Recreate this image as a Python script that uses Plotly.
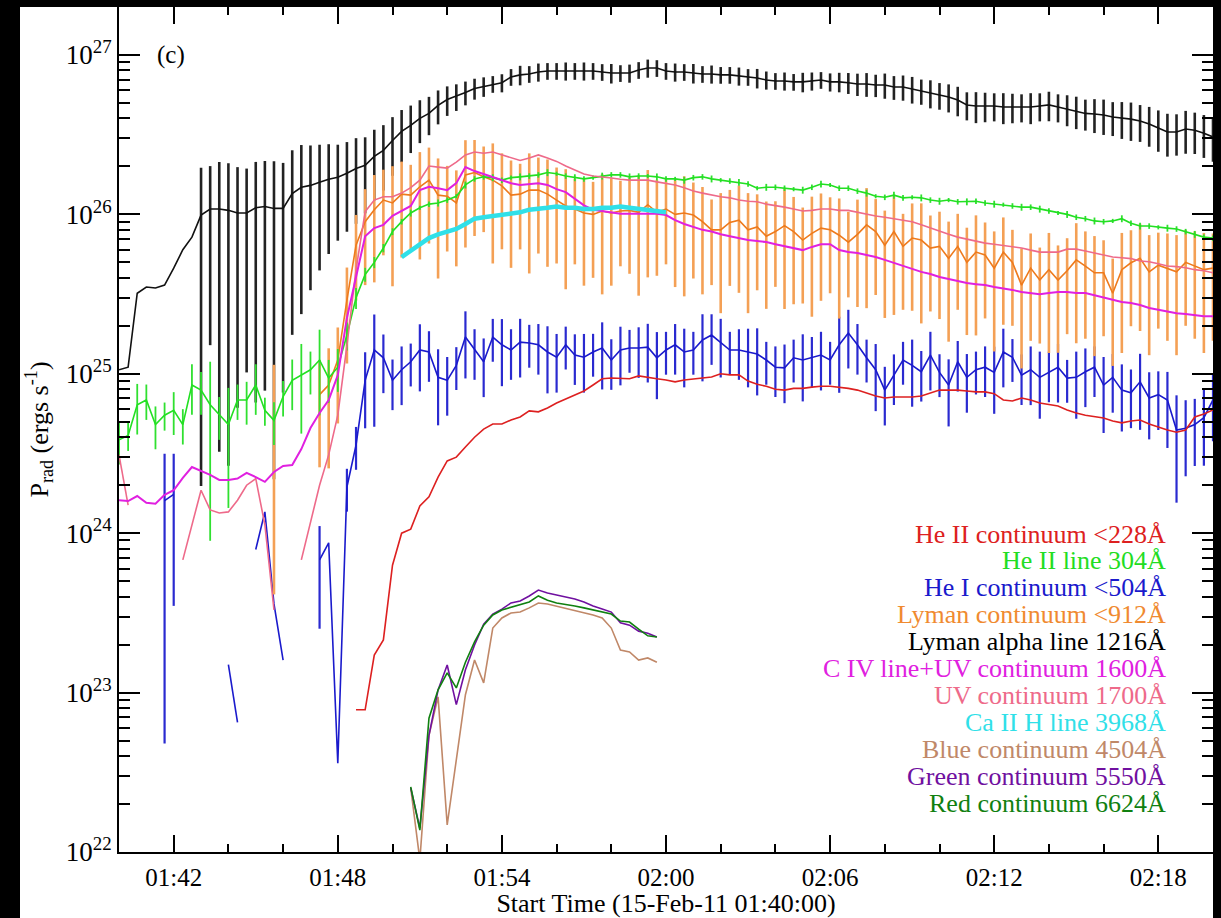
import pandas as pd
import plotly.graph_objects as go

# ---------------- time base (20 s cadence from 01:40:00) ----------------
START = "2011-02-15 01:40:00"
TIME = pd.date_range(START, periods=121, freq="20s")

# ---------------- series values (ergs s^-1) ----------------
# Lyman alpha line 1216 (black), i = 0..120
LYA = [1.06e25, 1.1e25, 3.2e25, 3.5e25, 3.45e25, 3.6e25, 4.6e25, 6.0e25, 7.2e25, 9.9e25,
       1.08e26, 1.08e26, 1.06e26, 1.02e26, 1.02e26, 1.1e26, 1.12e26, 1.09e26, 1.09e26, 1.35e26,
       1.48e26, 1.52e26, 1.59e26, 1.66e26, 1.71e26, 1.81e26, 1.94e26, 2.03e26, 2.31e26, 2.52e26,
       2.91e26, 3.32e26, 3.62e26, 4.0e26, 4.3e26, 4.83e26, 5.25e26, 5.5e26, 5.82e26, 6.17e26,
       6.35e26, 6.58e26, 6.7e26, 7.28e26, 7.5e26, 7.6e26, 7.82e26, 7.94e26, 7.94e26, 7.94e26,
       7.94e26, 7.94e26, 7.94e26, 7.82e26, 7.7e26, 7.7e26, 7.7e26, 8.05e26, 8.28e26, 8.28e26,
       7.94e26, 7.82e26, 7.82e26, 7.7e26, 7.6e26, 7.6e26, 7.5e26, 7.5e26, 7.38e26, 7.28e26,
       7.17e26, 6.97e26, 6.87e26, 6.87e26, 6.78e26, 6.78e26, 6.87e26, 6.97e26, 6.78e26, 6.78e26,
       6.7e26, 6.58e26, 6.58e26, 6.48e26, 6.48e26, 6.3e26, 6.3e26, 6.12e26, 5.94e26, 5.78e26,
       5.6e26, 5.45e26, 5.22e26, 4.86e26, 4.79e26, 4.79e26, 4.79e26, 4.72e26, 4.72e26, 4.72e26,
       4.72e26, 4.79e26, 4.86e26, 4.72e26, 4.58e26, 4.45e26, 4.3e26, 4.26e26, 4.2e26, 4.08e26,
       4.02e26, 3.96e26, 3.85e26, 3.69e26, 3.48e26, 3.29e26, 3.29e26, 3.43e26, 3.37e26, 3.23e26, 3.06e26]
LYA_ERRFRAC = [0, 0, 0, 0, 0, 0, 0, 0, 0,
               0.98, 0.86, 0.97, 0.975, 0.94, 0.9, 0.94, 0.93, 0.98, 0.93,
               0.87, 0.84, 0.78, 0.72, 0.66, 0.6, 0.57, 0.55, 0.5, 0.47, 0.44, 0.4, 0.36, 0.33,
               0.3, 0.27, 0.24, 0.21, 0.19, 0.17, 0.15, 0.14,
               0.12, 0.13, 0.12, 0.14, 0.12, 0.13, 0.12, 0.12, 0.13, 0.12,
               0.13, 0.12, 0.12, 0.14, 0.12, 0.13, 0.12, 0.13, 0.12, 0.12,
               0.13, 0.12, 0.14, 0.12, 0.13, 0.12, 0.12, 0.13, 0.12, 0.14,
               0.13, 0.12, 0.13, 0.12, 0.14, 0.13, 0.12, 0.13, 0.14, 0.15,
               0.16, 0.17, 0.16, 0.18, 0.17, 0.18, 0.19, 0.18, 0.2, 0.19,
               0.2, 0.21, 0.2, 0.22, 0.21, 0.2, 0.22, 0.21, 0.2, 0.22,
               0.2, 0.21, 0.2, 0.22, 0.23, 0.22, 0.24, 0.25, 0.24, 0.26,
               0.27, 0.26, 0.28, 0.29, 0.3, 0.29, 0.3, 0.29, 0.3, 0.3]

# He II line 304 (green), i = 0..120
HE2_304 = [3.85e24, 4.1e24, 6.4e24, 6.85e24, 4.8e24, 5.5e24, 5.9e24, 4.8e24, 8.5e24, 7.9e24,
           6.4e24, 5.5e24, 4.8e24, 6.85e24, 6.85e24, 8.5e24, 5.9e24, 5.1e24, 7.2e24, 9.1e24,
           9.8e24, 1.06e25, 1.22e25, 9.4e24, 1.1e25, 1.75e25, 3.0e25, 4.2e25, 5.0e25, 6.15e25,
           7.8e25, 9.0e25, 1.02e26, 1.1e26, 1.16e26, 1.18e26, 1.23e26, 1.3e26, 1.53e26, 1.67e26,
           1.72e26, 1.7e26, 1.64e26, 1.7e26, 1.72e26, 1.74e26, 1.77e26, 1.83e26, 1.8e26, 1.74e26,
           1.7e26, 1.67e26, 1.7e26, 1.74e26, 1.77e26, 1.77e26, 1.72e26, 1.74e26, 1.74e26, 1.72e26,
           1.67e26, 1.67e26, 1.64e26, 1.7e26, 1.72e26, 1.67e26, 1.64e26, 1.62e26, 1.59e26, 1.55e26,
           1.46e26, 1.48e26, 1.48e26, 1.46e26, 1.44e26, 1.42e26, 1.48e26, 1.55e26, 1.53e26, 1.46e26,
           1.46e26, 1.4e26, 1.36e26, 1.3e26, 1.28e26, 1.32e26, 1.27e26, 1.28e26, 1.27e26, 1.23e26,
           1.21e26, 1.23e26, 1.2e26, 1.2e26, 1.21e26, 1.18e26, 1.16e26, 1.15e26, 1.13e26, 1.11e26,
           1.11e26, 1.08e26, 1.05e26, 1.02e26, 1.0e26, 9.6e25, 9.4e25, 9.1e25, 9.0e25, 9.1e25,
           9.4e25, 8.8e25, 8.45e25, 8.45e25, 8.3e25, 8.2e25, 8.1e25, 7.8e25, 7.5e25, 7.2e25, 7.1e25]
HE2_304_ERRFRAC = [0.3, 0.2, 0.35, 0.25, 0.3, 0.2, 0.3, 0.25, 0.35, 0.3,
                   0.86, 0.3, 0.7, 0.25, 0.3, 0.35, 0.2, 0.3, 0.25, 0.35,
                   0.57, 0.3, 0.55, 0.3, 0.3, 0.2, 0.15, 0.1, 0.08, 0.06, 0.05,
                   0.04, 0.05, 0.03, 0.04, 0.05, 0.04, 0.03, 0.05, 0.04, 0.04,
                   0.05, 0.04, 0.03, 0.05, 0.04, 0.04, 0.05, 0.03, 0.04, 0.05,
                   0.04, 0.03, 0.05, 0.04, 0.04, 0.05, 0.04, 0.03, 0.05, 0.04,
                   0.03, 0.05, 0.04, 0.04, 0.05, 0.03, 0.04, 0.05, 0.04, 0.03,
                   0.05, 0.04, 0.04, 0.03, 0.05, 0.04, 0.05, 0.03, 0.04, 0.04,
                   0.04, 0.05, 0.03, 0.04, 0.05, 0.04, 0.03, 0.05, 0.04, 0.05,
                   0.03, 0.04, 0.05, 0.04, 0.04, 0.05, 0.03, 0.04, 0.05, 0.04,
                   0.05, 0.04, 0.03, 0.05, 0.04, 0.04, 0.05, 0.04, 0.03, 0.05,
                   0.04, 0.05, 0.04, 0.03, 0.05, 0.04, 0.04, 0.05, 0.04, 0.04]

# He I continuum <504 (blue), i = 0..120 (None = no valid value)
HE1 = [None, None, None, None, None, 1.6e24, 1.75e24, None, None, None,
       None, None, 1.5e23, 6.5e22, None, 7.9e23, 1.36e24, 3.6e23, 1.6e23, None,
       None, None, 6.8e23, 8.7e23, 3.6e22, 1.95e24, 3.57e24, 9.1e24, 1.41e25, 1.26e25,
       9.1e24, 1.06e25, 1.19e25, 1.41e25, 1.37e25, 9.5e24, 9.1e24, 1.13e25, 1.7e25, 1.41e25,
       1.19e25, 1.7e25, 1.52e25, 1.41e25, 1.58e25, 1.56e25, 1.52e25, 1.37e25, 1.27e25, 1.52e25,
       1.31e25, 1.27e25, 1.37e25, 1.45e25, 1.22e25, 1.41e25, 1.45e25, 1.45e25, 1.47e25, 1.26e25,
       1.41e25, 1.52e25, 1.37e25, 1.41e25, 1.63e25, 1.75e25, 1.58e25, 1.41e25, 1.41e25, 1.37e25,
       1.33e25, 1.22e25, 1.1e25, 1.09e25, 1.26e25, 1.22e25, 1.26e25, 1.31e25, 1.22e25, 1.52e25,
       1.8e25, 1.52e25, 1.26e25, 1.06e25, 7.9e24, 9.8e24, 1.22e25, 1.13e25, 1.03e25, 1.31e25,
       1.02e25, 8.5e24, 1.19e25, 9.5e24, 1.06e25, 1.1e25, 1.02e25, 1.37e25, 1.27e25, 9.8e24,
       1.06e25, 9.5e24, 1.02e25, 1.1e25, 9.4e24, 9.5e24, 1.03e25, 1.1e25, 8.5e24, 9.5e24,
       7.9e24, 7.6e24, 8.9e24, 7.05e24, 7.4e24, 6.85e24, 4.44e24, 4.55e24, 4.8e24, 5.3e24, 6.85e24]
HE1_ERRFRAC = [0, 0, 0, 0, 0, 0.97, 0.8, 0, 0, 0,
               0, 0, 0, 0, 0, 0, 0, 0, 0, 0,
               0, 0, 0.63, 0, 0, 0.3, 0.3, 0.5, 0.67, 0.4,
               0.35, 0.4, 0.3, 0.45, 0.35, 0.5, 0.4, 0.3, 0.45, 0.35,
               0.4, 0.3, 0.45, 0.35, 0.4, 0.3, 0.35, 0.45, 0.4, 0.3,
               0.35, 0.4, 0.3, 0.45, 0.35, 0.4, 0.3, 0.35, 0.4, 0.45,
               0.3, 0.35, 0.4, 0.3, 0.45, 0.35, 0.4, 0.3, 0.35, 0.4,
               0.45, 0.3, 0.35, 0.4, 0.3, 0.45, 0.35, 0.4, 0.3, 0.5,
               0.4, 0.35, 0.3, 0.45, 0.4, 0.35, 0.3, 0.45, 0.35, 0.4,
               0.3, 0.45, 0.35, 0.4, 0.3, 0.35, 0.45, 0.4, 0.3, 0.35,
               0.4, 0.45, 0.35, 0.4, 0.3, 0.45, 0.4, 0.35, 0.5, 0.4,
               0.45, 0.4, 0.5, 0.45, 0.4, 0.5, 0.65, 0.5, 0.45, 0.5, 0.45]

# Lyman continuum <912 (orange), i = 17..120
LYC_START = 17
LYC = [5.9e24, None, None, None, None,
       7.4e24, 8.5e24, 1.22e25, 2.9e25, 6.4e25, 9.0e25, 1.07e26, 1.23e26,
       1.18e26, 1.34e26, 1.32e26, 1.49e26, 1.64e26, 1.32e26, 1.3e26, 1.18e26, 1.77e26, 1.83e26,
       1.72e26, 1.64e26, 1.51e26, 1.32e26, 1.34e26, 1.42e26, 1.42e26, 1.34e26, 1.23e26, 1.13e26,
       1.08e26, 1.02e26, 1.0e26, 1.05e26, 1.02e26, 1.05e26, 1.06e26, 1.03e26, 1.15e26, 1.03e26,
       1.08e26, 1.0e26, 1.02e26, 9.9e25, 9.0e25, 8.0e25, 8.0e25, 8.9e25, 9.2e25, 8.0e25,
       8.35e25, 7.3e25, 7.8e25, 8.5e25, 7.8e25, 6.9e25, 7.6e25, 8.2e25, 8.0e25, 7.4e25,
       6.7e25, 7.5e25, 8.6e25, 7.8e25, 6.4e25, 7.8e25, 6.3e25, 7.1e25, 6.9e25, 6.15e25,
       6.3e25, 5.3e25, 6.3e25, 5.0e25, 5.8e25, 5.56e25, 4.6e25, 5.8e25, 5.0e25, 3.6e25,
       4.6e25, 3.87e25, 4.5e25, 3.87e25, 4.43e25, 5.18e25, 4.74e25, 4.3e25, 4.3e25, 3.2e25,
       4.5e25, 4.97e25, 5.3e25, 4.36e25, 4.8e25, 4.6e25, 4.36e25, 5.0e25, 4.74e25, 4.5e25, 4.6e25]
LYC_ERRFRAC = [0.93, 0, 0, 0, 0,
               0.65, 0.7, 0.6, 0.6, 0.55, 0.6, 0.65, 0.55, 0.7, 0.6,
               0.55, 0.65, 0.6, 0.7, 0.55, 0.6, 0.65, 0.6, 0.55, 0.7,
               0.6, 0.65, 0.55, 0.7, 0.6, 0.65, 0.6, 0.7, 0.55, 0.65,
               0.6, 0.7, 0.65, 0.55, 0.6, 0.7, 0.65, 0.6, 0.55, 0.65,
               0.7, 0.6, 0.65, 0.55, 0.7, 0.6, 0.65, 0.7, 0.6, 0.65,
               0.55, 0.7, 0.65, 0.6, 0.7, 0.65, 0.6, 0.7, 0.55, 0.65,
               0.7, 0.6, 0.65, 0.7, 0.6, 0.65, 0.7, 0.6, 0.65, 0.7,
               0.6, 0.65, 0.7, 0.6, 0.7, 0.65, 0.6, 0.7, 0.65, 0.6,
               0.7, 0.65, 0.6, 0.7, 0.65, 0.7, 0.6, 0.65, 0.7, 0.6,
               0.65, 0.7, 0.6, 0.65, 0.7, 0.6, 0.65, 0.7, 0.65]

# C IV line + UV continuum 1600 (magenta), i = 0..120
C4_1600 = [1.61e24, 1.59e24, 1.71e24, 1.55e24, 1.53e24, 1.74e24, 1.86e24, 2.22e24, 2.6e24, 2.45e24,
           2.32e24, 2.16e24, 2.16e24, 2.2e24, 2.39e24, 2.25e24, 2.1e24, 2.42e24, 2.64e24, 2.68e24,
           3.37e24, 4.57e24, 5.68e24, 6.85e24, 9.8e24, 2.24e25, 4.0e25, 7.3e25, 8.2e25, 8.6e25,
           9.8e25, 1.05e26, 1.13e26, 1.42e26, 1.49e26, 1.46e26, 1.42e26, 1.57e26, 1.98e26, 1.87e26,
           1.79e26, 1.72e26, 1.64e26, 1.57e26, 1.53e26, 1.55e26, 1.57e26, 1.53e26, 1.44e26, 1.38e26,
           1.25e26, 1.14e26, 1.07e26, 1.05e26, 1.03e26, 1.01e26, 1.01e26, 1.01e26, 1.01e26, 1.01e26,
           9.9e25, 9.2e25, 8.7e25, 8.3e25, 8.0e25, 7.8e25, 7.5e25, 7.3e25, 7.1e25, 6.9e25,
           6.8e25, 6.7e25, 6.5e25, 6.3e25, 6.15e25, 5.97e25, 6.25e25, 6.5e25, 6.5e25, 5.97e25,
           5.8e25, 5.72e25, 5.56e25, 5.4e25, 5.18e25, 4.97e25, 4.74e25, 4.54e25, 4.36e25, 4.23e25,
           4.05e25, 3.93e25, 3.82e25, 3.71e25, 3.65e25, 3.6e25, 3.5e25, 3.44e25, 3.36e25, 3.26e25,
           3.21e25, 3.16e25, 3.21e25, 3.26e25, 3.26e25, 3.21e25, 3.21e25, 3.1e25, 2.99e25, 2.9e25,
           2.82e25, 2.78e25, 2.7e25, 2.59e25, 2.52e25, 2.44e25, 2.4e25, 2.37e25, 2.34e25, 2.3e25, 2.3e25]

# UV continuum 1700 (pink), i = 0..120
UV_1700 = [3.1e24, 1.5e24, None, None, None, None, None, 6.8e23, 1.13e24, 1.86e24,
           1.4e24, 1.34e24, 1.36e24, 1.61e24, 2.0e24, 2.2e24, 1.13e24, 3.3e23, None, None,
           6.8e23, 1.17e24, 2.0e24, 3.1e24, 5.5e24, 1.5e25, 4.5e25, 1.04e26, 1.23e26, 1.29e26,
           1.29e26, 1.36e26, 1.47e26, 1.64e26, 2.01e26, 1.98e26, 1.95e26, 2.13e26, 2.36e26, 2.46e26,
           2.42e26, 2.46e26, 2.36e26, 2.26e26, 2.18e26, 2.26e26, 2.36e26, 2.26e26, 2.15e26, 2.01e26,
           1.9e26, 1.79e26, 1.74e26, 1.72e26, 1.69e26, 1.66e26, 1.64e26, 1.64e26, 1.64e26, 1.6e26,
           1.57e26, 1.53e26, 1.47e26, 1.4e26, 1.36e26, 1.32e26, 1.29e26, 1.27e26, 1.23e26, 1.21e26,
           1.2e26, 1.16e26, 1.14e26, 1.11e26, 1.08e26, 1.05e26, 1.06e26, 1.08e26, 1.08e26, 1.06e26,
           1.06e26, 1.03e26, 1.0e26, 9.77e25, 9.6e25, 9.4e25, 9.25e25, 9.0e25, 8.6e25, 8.2e25,
           7.9e25, 7.5e25, 7.2e25, 7.0e25, 6.8e25, 6.6e25, 6.5e25, 6.4e25, 6.25e25, 6.15e25,
           5.97e25, 5.8e25, 5.8e25, 5.8e25, 6.05e25, 6.05e25, 5.9e25, 5.72e25, 5.56e25, 5.4e25,
           5.35e25, 5.28e25, 5.1e25, 5.05e25, 4.9e25, 4.74e25, 4.7e25, 4.63e25, 4.5e25, 4.43e25, 4.3e25]

# He II continuum <228 (red), i = 26..120
HE2C_START = 26
HE2C = [7.8e22, 7.8e22, 1.72e23, 2.14e23,
        6.3e23, 1.0e24, 1.06e24, 1.48e24, 1.69e24, 2.25e24, 2.84e24, 3.0e24, 3.47e24, 4.0e24,
        4.5e24, 4.84e24, 4.84e24, 5.13e24, 5.36e24, 5.85e24, 5.77e24, 6.1e24, 6.56e24, 6.95e24,
        7.37e24, 7.8e24, 8.5e24, 9.3e24, 9.4e24, 9.4e24, 9.3e24, 9.7e24, 9.55e24, 9.3e24,
        9.15e24, 8.9e24, 9.15e24, 9.3e24, 9.4e24, 9.55e24, 1.0e25, 9.85e24, 9.85e24, 9.0e24,
        8.6e24, 8.35e24, 8.0e24, 7.9e24, 8.1e24, 8.1e24, 8.25e24, 8.35e24, 8.35e24, 8.25e24,
        8.1e24, 7.9e24, 7.55e24, 7.25e24, 7.05e24, 7.15e24, 7.15e24, 7.15e24, 7.25e24, 7.55e24,
        7.9e24, 7.9e24, 7.9e24, 7.8e24, 7.7e24, 7.7e24, 7.5e24, 6.85e24, 6.75e24, 7.05e24,
        6.85e24, 6.56e24, 6.45e24, 6.28e24, 5.93e24, 5.67e24, 5.5e24, 5.36e24, 5.28e24, 5.06e24,
        4.92e24, 5.06e24, 5.13e24, 4.84e24, 4.63e24, 4.44e24, 4.3e24, 4.44e24, 5.36e24, 5.6e24, 5.93e24]

# Ca II H line 3968 (cyan), i = 31..60
CA2H_START = 31
CA2H = [5.4e25, 5.9e25, 6.5e25, 7.1e25, 7.5e25, 7.8e25, 8.1e25, 8.7e25, 9.4e25,
        9.6e25, 9.8e25, 9.9e25, 1.02e26, 1.03e26, 1.07e26, 1.08e26, 1.1e26, 1.12e26, 1.1e26,
        1.1e26, 1.08e26, 1.08e26, 1.1e26, 1.1e26, 1.12e26, 1.1e26, 1.08e26, 1.06e26, 1.04e26,
        1.03e26]

# White-light continua, i = 32..59
WL_START = 32
BLUE_4504 = [2.52e22, 8.9e21, 5.4e22, 9.4e22, 1.48e22, 3.78e22, 9.7e22, 1.6e23, 1.15e23, 2.54e23,
             2.94e23, 3.16e23, 3.2e23, 3.4e23, 3.65e23, 3.6e23, 3.49e23, 3.4e23, 3.3e23, 3.2e23,
             3.07e23, 2.94e23, 2.54e23, 1.85e23, 1.8e23, 1.6e23, 1.65e23, 1.55e23]
GREEN_5550 = [2.52e22, 1.41e22, 5.4e22, 1.04e23, 1.49e23, 8.4e22, 1.39e23, 1.99e23, 2.69e23, 3.11e23,
              3.34e23, 3.65e23, 3.76e23, 4.04e23, 4.4e23, 4.22e23, 4.1e23, 3.98e23, 3.87e23, 3.7e23,
              3.49e23, 3.34e23, 3.2e23, 2.74e23, 2.65e23, 2.43e23, 2.36e23, 2.23e23]
RED_6624 = [2.56e22, 1.37e22, 6.9e22, 1.04e23, 1.33e23, 1.07e23, 1.55e23, 2.08e23, 2.65e23, 3.07e23,
            3.3e23, 3.44e23, 3.55e23, 3.7e23, 4.04e23, 3.8e23, 3.65e23, 3.55e23, 3.49e23, 3.4e23,
            3.3e23, 3.2e23, 3.11e23, 2.81e23, 2.77e23, 2.5e23, 2.27e23, 2.23e23]

# ---------------- labels ----------------
LEGEND_TEXT = ["He II continuum <228Å", "He II line 304Å", "He I continuum <504Å",
               "Lyman continuum <912Å", "Lyman alpha line 1216Å", "C IV line+UV continuum 1600Å",
               "UV continuum 1700Å", "Ca II H line 3968Å", "Blue continuum 4504Å",
               "Green continuum 5550Å", "Red continuum 6624Å"]
LEGEND_COLOR = ["#dd2020", "#22dd22", "#1a1acc", "#f08a30", "#000000", "#e020e0",
                "#ee6a8a", "#30e0e8", "#c08868", "#7010a0", "#108010"]
X_TICK_START = "2011-02-15 01:42:00"
X_RANGE = ["2011-02-15 01:40:00", "2011-02-15 02:20:00"]
Y_DECADES = [22, 23, 24, 25, 26, 27]

FONT = "Liberation Serif"
W, H = 1221, 918
ML, MR, MT, MB = 119, 8, 7, 66


def errs(vals, fracs):
    return [0 if v is None else v * f for v, f in zip(vals, fracs)]


fig = go.Figure()


def add(times, vals, color, width, err=None, errcolor=None, thick=2):
    kw = {}
    if err is not None:
        kw["error_y"] = dict(type="data", array=err, symmetric=True, visible=True,
                             color=errcolor or color, thickness=thick, width=0)
    fig.add_trace(go.Scatter(x=list(times), y=vals, mode="lines",
                             line=dict(color=color, width=width),
                             showlegend=False, hoverinfo="skip", **kw))


add(TIME, LYA, "#111111", 1.6, errs(LYA, LYA_ERRFRAC), "#222222", 2.6)
add(TIME, HE1, "#1a1acc", 1.6, errs(HE1, HE1_ERRFRAC), "#2a2ad0", 2.2)
add(TIME[HE2C_START:HE2C_START + len(HE2C)], HE2C, "#dd2020", 1.6)
t_lyc = TIME[LYC_START:LYC_START + len(LYC)]
add(t_lyc, LYC, "#ee7a1c", 1.6, errs(LYC, LYC_ERRFRAC), "#f4a055", 2.6)
add(TIME, HE2_304, "#22e022", 1.6, errs(HE2_304, HE2_304_ERRFRAC), "#30e030", 1.8)
add(TIME, UV_1700, "#ee6a8a", 1.6)
add(TIME, C4_1600, "#e020e0", 2)
add(TIME[CA2H_START:CA2H_START + len(CA2H)], CA2H, "#30e0e8", 4.5)
t_wl = TIME[WL_START:WL_START + len(BLUE_4504)]
add(t_wl, BLUE_4504, "#c08868", 1.6)
add(t_wl, GREEN_5550, "#7010a0", 1.6)
add(t_wl, RED_6624, "#108010", 1.6)

plot_w = W - ML - MR
plot_h = H - MT - MB

annotations = [dict(text="(c)", xref="paper", yref="paper", x=(171 - ML) / plot_w,
                    y=(H - MB - 55) / plot_h, xanchor="center", yanchor="middle",
                    showarrow=False, font=dict(family=FONT, size=25, color="black"))]
for k, (txt, col) in enumerate(zip(LEGEND_TEXT, LEGEND_COLOR)):
    yc = 534 + 26.9 * k
    annotations.append(dict(text=txt, xref="paper", yref="paper",
                            x=(1168 - ML) / plot_w, y=(H - MB - yc) / plot_h,
                            xanchor="right", yanchor="middle", showarrow=False,
                            font=dict(family=FONT, size=26, color=col)))

minor_vals = [m * 10.0 ** e for e in range(22, 28) for m in range(2, 10) if m * 10.0 ** e < 2.0e27]

fig.update_layout(
    width=W, height=H,
    margin=dict(l=ML, r=MR, t=MT, b=MB, pad=0, autoexpand=False),
    paper_bgcolor="black", plot_bgcolor="white",
    showlegend=False,
    annotations=annotations,
    shapes=[dict(type="rect", xref="paper", yref="paper", layer="below",
                 x0=(20 - ML) / plot_w, x1=1.0, y0=-MB / plot_h - 0.01, y1=1.0,
                 fillcolor="white", line=dict(width=0))],
    xaxis=dict(type="date", range=X_RANGE, tickformat="%H:%M",
               tick0=X_TICK_START, dtick=6 * 60 * 1000, automargin=False,
               ticks="inside", ticklen=17, tickwidth=2, tickcolor="black",
               showline=True, linecolor="black", linewidth=2, mirror="allticks",
               showgrid=False, zeroline=False,
               minor=dict(tick0=X_TICK_START, dtick=2 * 60 * 1000, ticks="inside",
                          ticklen=8, tickwidth=2, tickcolor="black", showgrid=False),
               tickfont=dict(family=FONT, size=25, color="black"),
               ticklabelstandoff=2,
               title=dict(text="Start Time (15-Feb-11 01:40:00)",
                          font=dict(family=FONT, size=26, color="black"), standoff=13)),
    yaxis=dict(type="log", range=[22, 27.301], automargin=False,
               tickvals=[10.0 ** d for d in Y_DECADES],
               ticktext=["10<sup>%d</sup>" % d for d in Y_DECADES],
               ticks="inside", ticklen=21, tickwidth=2, tickcolor="black",
               showline=True, linecolor="black", linewidth=2, mirror="allticks",
               showgrid=False, zeroline=False,
               minor=dict(tickvals=minor_vals, ticks="inside", ticklen=11,
                          tickwidth=2, tickcolor="black", showgrid=False),
               tickfont=dict(family=FONT, size=27, color="black"),
               title=dict(text="P<sub>rad</sub> (ergs s<sup>-1</sup>)",
                          font=dict(family=FONT, size=26, color="black"), standoff=10)),
)

fig.write_html("out.html")
